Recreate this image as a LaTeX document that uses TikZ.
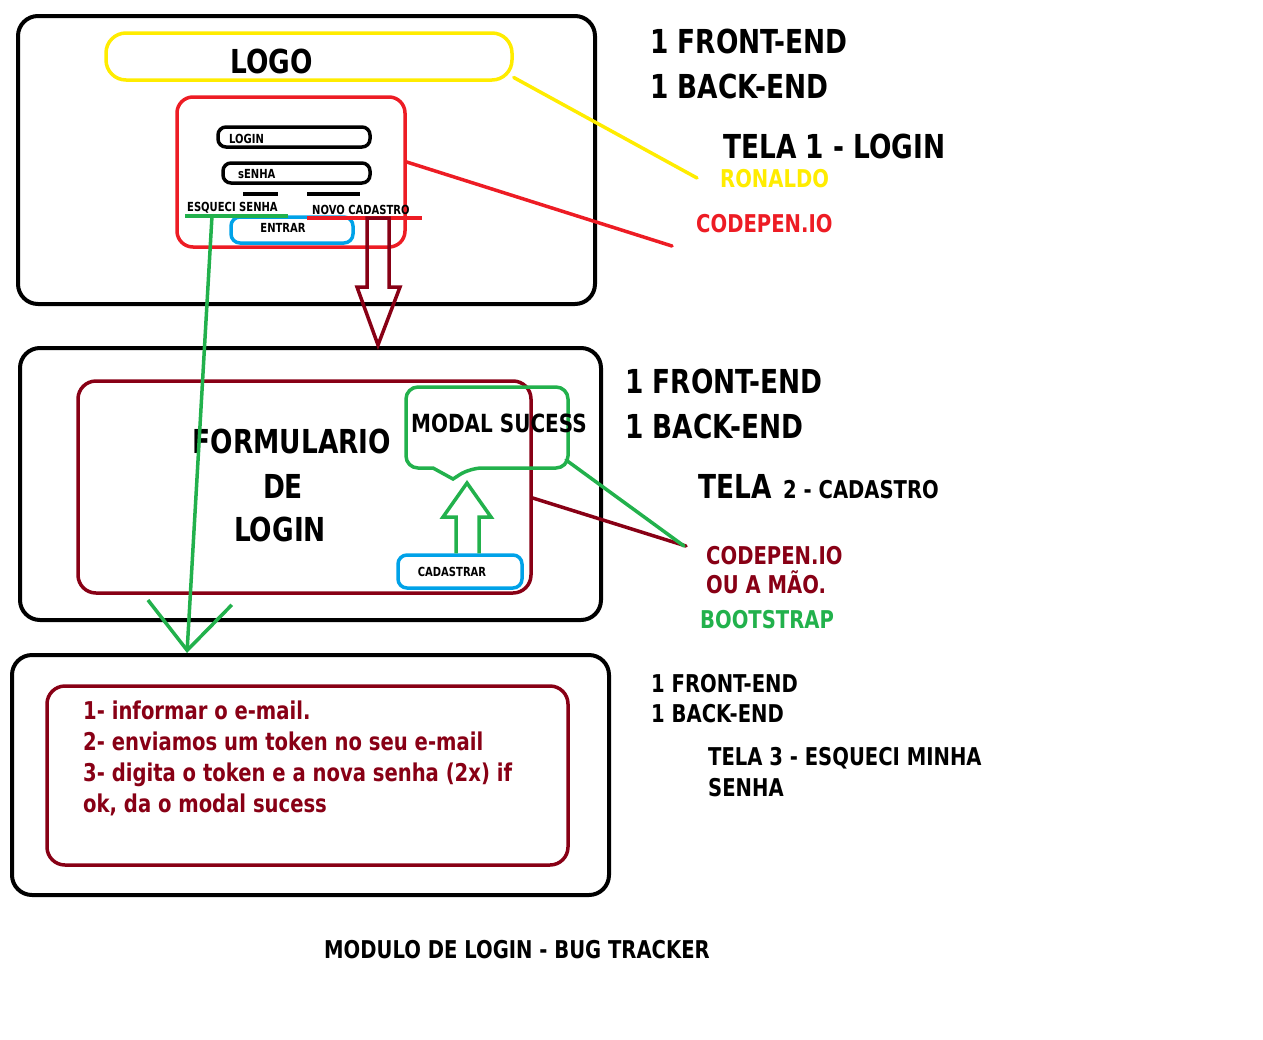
\documentclass[tikz,border=0pt]{standalone}
\usepackage{fontspec}
\setmainfont{DejaVu Sans}[FakeStretch=0.8]
\usepackage{tikz}
\usetikzlibrary{arrows.meta}
\definecolor{paintyellow}{RGB}{255,236,0}
\definecolor{paintred}{RGB}{237,28,36}
\definecolor{paintdark}{RGB}{136,0,21}
\definecolor{paintgreen}{RGB}{34,177,76}
\definecolor{paintblue}{RGB}{0,162,232}
\tikzstyle{tela}=[draw=black, line width=4pt, rounded corners=20pt, inner sep=0pt]
\tikzstyle{caixa}=[line width=3.5pt, rounded corners=16pt, inner sep=0pt]
\tikzstyle{campo}=[draw=black, line width=3.5pt, rounded corners=8pt, inner sep=0pt]
\tikzstyle{botao}=[draw=paintblue, line width=3.5pt, rounded corners=9pt, inner sep=0pt]
\tikzstyle{txt}=[inner sep=0pt, anchor=base west]
\tikzstyle{grande}=[font=\fontsize{33}{36}\selectfont\bfseries]
\tikzstyle{medio}=[font=\fontsize{25}{28}\selectfont\bfseries]
\tikzstyle{menor}=[font=\fontsize{24.5}{27}\selectfont\bfseries]
\tikzstyle{mini}=[font=\fontsize{12.5}{14}\selectfont\bfseries]
\tikzstyle{linha}=[line width=3.5pt, line cap=round]
\begin{document}
\begin{tikzpicture}[x=1pt, y=-1pt]
\useasboundingbox (0,0) rectangle (1263,1039);

% tela 1 - login
\node[tela, minimum width=577pt, minimum height=288pt] (tela1) at (306.5,160) {};
\node[caixa, draw=paintyellow, rounded corners=20pt, minimum width=406pt, minimum height=47pt] (logo) at (309,56.5) {};
\node[txt, grande] (logotxt) at (230,73) {LOGO};
\node[caixa, draw=paintred, minimum width=228pt, minimum height=150pt] (loginbox) at (291,172) {};
\node[campo, minimum width=152pt, minimum height=20pt] (campologin) at (294,137) {};
\node[campo, minimum width=147pt, minimum height=20pt] (camposenha) at (296.5,173) {};
\node[txt, mini] (logintxt) at (229,143) {LOGIN};
\node[txt, mini] (senhatxt) at (238,178) {sENHA};
\draw[line width=4pt] (243,194) -- (278,194);
\draw[line width=4pt] (307,194) -- (360,194);
\node[botao, minimum width=122pt, minimum height=26pt] (entrar) at (292,230) {};
\node[mini] (entrartxt) at (283,228) {ENTRAR};
\node[txt, mini] (esqueci) at (187,211) {ESQUECI SENHA};
\node[txt, mini] (novocad) at (312,214) {NOVO CADASTRO};
\draw[linha, paintgreen, line cap=butt] (185,216) coordinate (esqA) -- (288,216) coordinate (esqB);
\draw[linha, paintred, line cap=butt] (307,218) coordinate (novoA) -- (422,218) coordinate (novoB);

% tela 2 - cadastro
\node[tela, minimum width=581pt, minimum height=272pt] (tela2) at (310.5,484) {};
\node[caixa, draw=paintdark, rounded corners=18pt, minimum width=453pt, minimum height=212pt] (form) at (304.5,487) {};
\node[grande, inner sep=0pt, anchor=base] (formtxt1) at (292,453) {FORMULARIO};
\node[grande, inner sep=0pt, anchor=base] (formtxt2) at (283,498) {DE};
\node[grande, inner sep=0pt, anchor=base] (formtxt3) at (280,541) {LOGIN};
\draw[caixa, draw=paintgreen, rounded corners=12pt] (406,420) -- (406,387) -- (568,387) -- (568,468)
  -- (470,468) [sharp corners] -- (453,479) -- (433,468) [rounded corners=12pt] -- (406,468) -- cycle;
\coordinate (modalcanto) at (566,460);
\node[txt, medio] (modal) at (411,432) {MODAL SUCESS};
\node[botao, minimum width=124pt, minimum height=33pt] (cadastrar) at (460,571.5) {};
\node[mini] (cadtxt) at (452,572) {CADASTRAR};
\draw[paintgreen, line width=3.5pt] (cadastrar.north -| 456,0) -- (456,517) -- (443,517) -- (467,483)
  -- (491,517) -- (479,517) -- (cadastrar.north -| 479,0);

% seta novo cadastro -> tela 2
\draw[paintdark, line width=3.5pt] (novoB -| 367,0) -- (367,287) -- (357,287) -- (378,345)
  -- (400,287) -- (389,287) -- (novoB -| 389,0) -- cycle;

% tela 3 - esqueci minha senha
\node[tela, minimum width=597pt, minimum height=240pt] (tela3) at (310.5,775) {};
\node[caixa, draw=paintdark, rounded corners=18pt, minimum width=521pt, minimum height=179pt] (passos) at (307.5,775.5) {};
\node[txt, menor, text=paintdark] (passo1) at (83,719) {1- informar o e-mail.};
\node[txt, menor, text=paintdark] (passo2) at (83,750) {2- enviamos um token no seu e-mail};
\node[txt, menor, text=paintdark] (passo3) at (83,781) {3- digita o token e a nova senha (2x) if};
\node[txt, menor, text=paintdark] (passo4) at (83,812) {ok, da o modal sucess};
\coordinate (esqTip) at (187,653);
\draw[paintgreen, line width=3.5pt, -{Straight Barb[length=48pt, width=84pt]}] (212,216) -- (esqTip);

% anotacoes
\node[txt, grande] (fe1) at (650,53) {1 FRONT-END};
\node[txt, grande] (be1) at (650,98) {1 BACK-END};
\node[txt, grande] (tela1txt) at (723,158) {TELA 1 - LOGIN};
\node[txt, menor, text=paintyellow] (ronaldo) at (720,187) {RONALDO};
\node[txt, menor, text=paintred] (codepen1) at (696,232) {CODEPEN.IO};
\coordinate (ronaldoPt) at (697,178);
\coordinate (codepenPt) at (672,246);
\draw[linha, paintyellow] ([yshift=-21pt]logo.east) -- (ronaldoPt);
\draw[linha, paintred] ([yshift=10pt]loginbox.east) -- (codepenPt);

\node[txt, grande] (fe2) at (625,393) {1 FRONT-END};
\node[txt, grande] (be2) at (625,438) {1 BACK-END};
\node[txt, grande] (tela2txt) at (698,498) {TELA};
\node[txt, menor] (tela2sub) at (783,498) {2 - CADASTRO};
\node[txt, menor, text=paintdark] (codepen2) at (706,564) {CODEPEN.IO};
\node[txt, menor, text=paintdark] (mao) at (706,593) {OU A MÃO.};
\node[txt, menor, text=paintgreen] (bootstrap) at (700,628) {BOOTSTRAP};
\coordinate (cad2Pt) at (686,546);
\draw[linha, paintdark] ([yshift=-11pt]form.east) -- (cad2Pt);
\draw[linha, paintgreen] (modalcanto) -- ([xshift=-2pt]cad2Pt);

\node[txt, menor] (fe3) at (651,692) {1 FRONT-END};
\node[txt, menor] (be3) at (651,722) {1 BACK-END};
\node[txt, menor] (tela3txt) at (708,765) {TELA 3 - ESQUECI MINHA};
\node[txt, menor] (tela3txt2) at (708,796) {SENHA};

\node[menor, inner sep=0pt, anchor=base] (titulo) at (517,958) {MODULO DE LOGIN - BUG TRACKER};
\end{tikzpicture}
\end{document}
